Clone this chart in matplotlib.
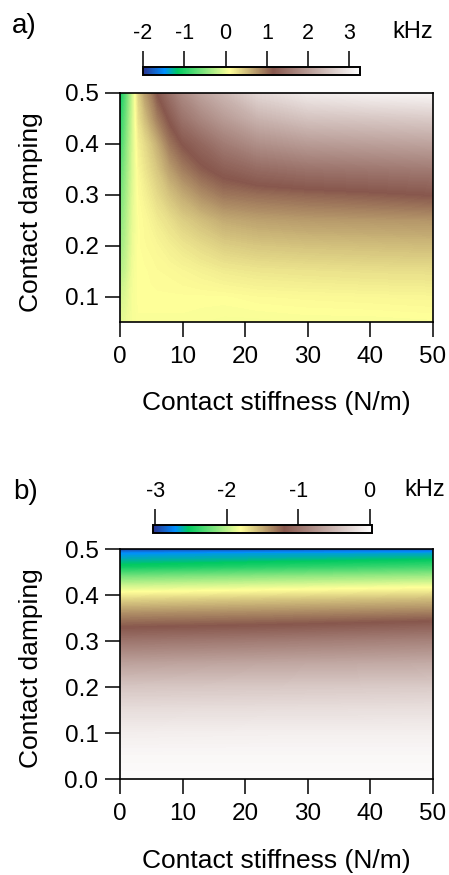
import numpy as np
import matplotlib
matplotlib.use("Agg")
import matplotlib.pyplot as plt
from matplotlib.colors import LinearSegmentedColormap, Normalize
from matplotlib.cm import ScalarMappable

plt.rcParams['font.family'] = ['Liberation Sans', 'DejaVu Sans']
plt.rcParams['axes.unicode_minus'] = False

# ---- data (kHz) ----
# panel a: frequency shift vs contact stiffness (x) and contact damping (y)
stiff_a = [0, 1, 2, 3, 4, 5, 6, 8, 10, 13, 16.6, 22, 30, 40, 50]
damp_a = [0.05, 0.10, 0.15, 0.20, 0.25, 0.30, 0.35, 0.40, 0.45, 0.50]
shift_a = [  # one row per stiffness value, columns follow damp_a
    [-0.05, -0.15, -0.30, -0.42, -0.52, -0.62, -0.75, -0.90, -1.00, -1.15],
    [0.00, -0.05, -0.15, -0.22, -0.28, -0.35, -0.42, -0.50, -0.60, -0.70],
    [0.05, 0.05, 0.03, 0.00, -0.02, -0.05, -0.08, -0.10, -0.12, -0.15],
    [0.08, 0.10, 0.10, 0.10, 0.10, 0.12, 0.15, 0.20, 0.30, 0.40],
    [0.08, 0.10, 0.10, 0.12, 0.13, 0.18, 0.25, 0.32, 0.50, 0.70],
    [0.08, 0.10, 0.11, 0.13, 0.17, 0.25, 0.35, 0.45, 0.70, 0.90],
    [0.08, 0.10, 0.12, 0.15, 0.22, 0.33, 0.45, 0.60, 0.90, 1.16],
    [0.08, 0.10, 0.13, 0.20, 0.30, 0.48, 0.70, 0.95, 1.20, 1.50],
    [0.08, 0.10, 0.15, 0.25, 0.40, 0.62, 0.90, 1.16, 1.50, 1.80],
    [0.07, 0.10, 0.18, 0.32, 0.50, 0.80, 1.10, 1.35, 1.75, 2.10],
    [0.06, 0.10, 0.22, 0.40, 0.62, 0.95, 1.25, 1.60, 2.00, 2.35],
    [0.06, 0.12, 0.25, 0.45, 0.68, 1.00, 1.40, 1.85, 2.30, 2.75],
    [0.07, 0.13, 0.27, 0.48, 0.72, 1.05, 1.50, 2.00, 2.50, 3.00],
    [0.07, 0.14, 0.29, 0.50, 0.74, 1.10, 1.55, 2.05, 2.55, 3.10],
    [0.08, 0.15, 0.30, 0.52, 0.76, 1.16, 1.60, 2.10, 2.60, 3.15],
]

# panel b: damping shift
stiff_b = [0, 25, 50]
damp_b = [0.0, 0.05, 0.10, 0.15, 0.20, 0.25, 0.30, 0.33, 0.36, 0.39,
          0.42, 0.44, 0.46, 0.48, 0.49, 0.50]
shift_b = [
    [0.0, -0.03, -0.10, -0.22, -0.39, -0.65, -0.98, -1.20, -1.40, -1.65,
     -1.95, -2.20, -2.50, -2.65, -2.72, -3.00],
    [0.0, -0.03, -0.09, -0.21, -0.37, -0.61, -0.93, -1.16, -1.37, -1.60,
     -1.90, -2.13, -2.42, -2.62, -2.68, -2.95],
    [0.0, -0.03, -0.09, -0.20, -0.35, -0.58, -0.88, -1.10, -1.33, -1.56,
     -1.85, -2.08, -2.35, -2.58, -2.66, -2.90],
]

ticks_a = [-2, -1, 0, 1, 2, 3]
ticks_b = [-3, -2, -1, 0]

# Igor-like terrain colour table
cmap = LinearSegmentedColormap.from_list("terrain_igor", [
    (0.00, (0.17, 0.20, 0.56)),
    (0.10, (0.00, 0.56, 1.00)),
    (0.16, (0.00, 0.79, 0.38)),
    (0.40, (1.00, 1.00, 0.60)),
    (0.60, (0.53, 0.34, 0.30)),
    (1.00, (1.00, 1.00, 1.00)),
], N=512)

W, H = 449, 875


def box(l, t, r, b):
    return [l / W, 1 - b / H, (r - l) / W, (b - t) / H]


def style_axes(ax, ylim, yticks):
    ax.set_xlim(0, 50)
    ax.set_ylim(*ylim)
    ax.set_xticks([0, 10, 20, 30, 40, 50])
    ax.set_yticks(yticks)
    ax.set_yticklabels(["%.1f" % v for v in yticks])
    ax.tick_params(axis='both', direction='out', length=10.5, width=1.1,
                   labelsize=17.5, color='black')
    ax.tick_params(axis='x', pad=7)
    ax.tick_params(axis='y', pad=5)
    for s in ax.spines.values():
        s.set_linewidth(1.2)
    ax.set_xlabel("Contact stiffness (N/m)", fontsize=19)
    ax.set_ylabel("Contact damping", fontsize=19)
    ax.xaxis.set_label_coords(0.5, -0.303)
    ax.yaxis.set_label_coords(-0.245, 0.48)


def colorbar(fig, rect, vmin, vmax, ticks):
    cax = fig.add_axes(rect)
    sm = ScalarMappable(norm=Normalize(vmin, vmax), cmap=cmap)
    cb = fig.colorbar(sm, cax=cax, orientation='horizontal', ticks=ticks)
    cax.xaxis.set_ticks_position('top')
    cax.tick_params(axis='x', direction='out', length=11.5, width=1.1,
                    labelsize=15.5, pad=5)
    cb.outline.set_linewidth(1.4)
    return cb


fig = plt.figure(figsize=(W / 100, H / 100), dpi=100)

# panel a
va = (-2.01, 3.26)
ax1 = fig.add_axes(box(120, 92.7, 433, 322))
Xa, Ya = np.meshgrid(stiff_a, damp_a, indexing='ij')
ax1.contourf(Xa, Ya, np.array(shift_a), levels=np.linspace(va[0], va[1], 300),
             cmap=cmap, vmin=va[0], vmax=va[1], antialiased=False)
style_axes(ax1, (0.05, 0.5), [0.1, 0.2, 0.3, 0.4, 0.5])
colorbar(fig, box(142.7, 66.7, 360, 75), va[0], va[1], ticks_a)
fig.text(12 / W, 1 - 26 / H, "a)", fontsize=20, va='center', ha='left')
fig.text(413 / W, 1 - 31.7 / H, "kHz", fontsize=17, va='center', ha='center')

# panel b
vb = (-3.03, 0.03)
ax2 = fig.add_axes(box(120, 549, 433, 779))
Xb, Yb = np.meshgrid(stiff_b, damp_b, indexing='ij')
ax2.contourf(Xb, Yb, np.array(shift_b), levels=np.linspace(vb[0], vb[1], 300),
             cmap=cmap, vmin=vb[0], vmax=vb[1], antialiased=False)
style_axes(ax2, (0.0, 0.5), [0.0, 0.1, 0.2, 0.3, 0.4, 0.5])
colorbar(fig, box(153.3, 525, 371.7, 533), vb[0], vb[1], ticks_b)
fig.text(13 / W, 1 - 492 / H, "b)", fontsize=20, va='center', ha='left')
fig.text(425 / W, 1 - 490 / H, "kHz", fontsize=17, va='center', ha='center')

fig.savefig("out.png", dpi=100)
